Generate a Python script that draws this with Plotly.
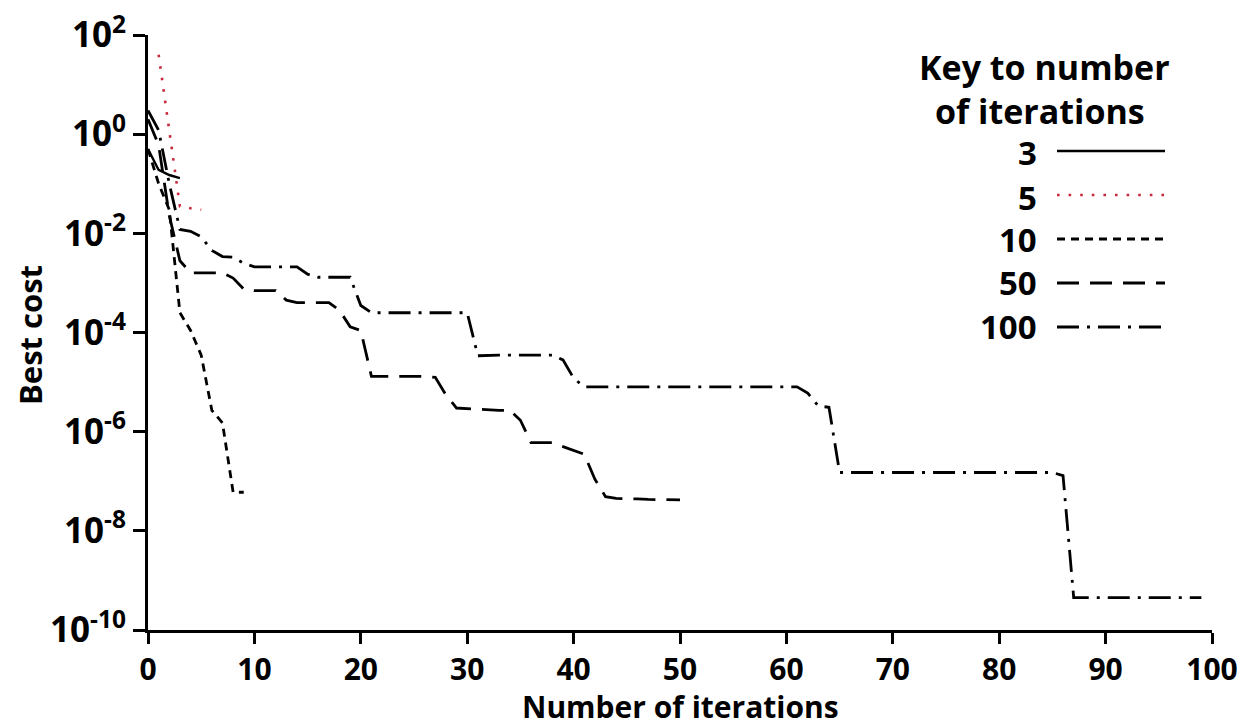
import plotly.graph_objects as go

# ---------------- data ----------------
iters_3 = [0, 1, 2, 3]
cost_3 = [0.5, 0.19, 0.15, 0.13]

iters_5 = [1, 2, 3, 4, 5]
cost_5 = [40, 1.1, 0.035, 0.032, 0.03]

iters_10 = [0, 1, 2, 3, 4, 5, 6, 7, 8, 9]
cost_10 = [0.5, 0.1, 0.03, 2.5e-4, 1.1e-4, 3.5e-5, 2.7e-6, 1.5e-6, 6e-8, 6e-8]

iters_50 = list(range(0, 51))
cost_50 = [2.0, 0.6, 0.023, 0.0028, 0.0016, 0.0016, 0.0016, 0.0016, 0.00125, 0.00075,
           0.0007, 0.0007, 0.0007, 0.00045, 0.0004, 0.0004, 0.0004, 0.0004, 0.00028, 0.00013,
           0.00011, 1.3e-5, 1.3e-5, 1.3e-5, 1.3e-5, 1.3e-5, 1.3e-5, 1.25e-5, 5.5e-6, 3.0e-6,
           2.9e-6, 2.9e-6, 2.8e-6, 2.7e-6, 2.7e-6, 1.7e-6, 6.0e-7, 6.0e-7, 6.0e-7, 5.0e-7,
           4.2e-7, 3.5e-7, 1.1e-7, 4.9e-8, 4.5e-8, 4.5e-8, 4.4e-8, 4.3e-8, 4.3e-8, 4.2e-8,
           4.2e-8]

iters_100 = list(range(0, 100))
cost_100 = [3.0, 1.2, 0.1, 0.012, 0.011, 0.0085, 0.0045, 0.0034, 0.0033, 0.0025,
            0.0021, 0.0021, 0.0021, 0.0021, 0.0021, 0.0015, 0.0013, 0.0013, 0.0013, 0.0013,
            3.5e-4, 2.5e-4, 2.5e-4, 2.5e-4, 2.5e-4, 2.5e-4, 2.5e-4, 2.5e-4, 2.5e-4, 2.5e-4,
            2.5e-4, 3.4e-5, 3.5e-5, 3.5e-5, 3.5e-5, 3.5e-5, 3.5e-5, 3.5e-5, 3.5e-5, 2.8e-5,
            1.2e-5, 8e-6, 8e-6, 8e-6, 8e-6, 8e-6, 8e-6, 8e-6, 8e-6, 8e-6,
            8e-6, 8e-6, 8e-6, 8e-6, 8e-6, 8e-6, 8e-6, 8e-6, 8e-6, 8e-6,
            8e-6, 8e-6, 6e-6, 3.3e-6, 3.1e-6, 1.5e-7, 1.5e-7, 1.5e-7, 1.5e-7, 1.5e-7,
            1.5e-7, 1.5e-7, 1.5e-7, 1.5e-7, 1.5e-7, 1.5e-7, 1.5e-7, 1.5e-7, 1.5e-7, 1.5e-7,
            1.5e-7, 1.5e-7, 1.5e-7, 1.5e-7, 1.5e-7, 1.5e-7, 1.3e-7, 4.5e-10, 4.5e-10, 4.5e-10,
            4.5e-10, 4.5e-10, 4.5e-10, 4.5e-10, 4.5e-10, 4.5e-10, 4.5e-10, 4.5e-10, 4.5e-10, 4.5e-10]

legend_labels = ["3", "5", "10", "50", "100"]
y_tick_exps = [2, 0, -2, -4, -6, -8, -10]
x_ticks = [0, 10, 20, 30, 40, 50, 60, 70, 80, 90, 100]

# ---------------- styles ----------------
FONT = "Open Sans, Lato, DejaVu Sans, sans-serif"
RED = "#c8283c"
styles = [
    dict(color="black", width=2.4, dash="solid"),
    dict(color=RED, width=2.6, dash="2.6px,9px"),
    dict(color="black", width=2.8, dash="8px,6px"),
    dict(color="black", width=2.8, dash="22px,11px"),
    dict(color="black", width=2.8, dash="22px,8px,3px,8px"),
]
series = [(iters_3, cost_3), (iters_5, cost_5), (iters_10, cost_10),
          (iters_50, cost_50), (iters_100, cost_100)]

fig = go.Figure()
for (xs, ys), st, name in zip(series, styles, legend_labels):
    fig.add_trace(go.Scatter(x=xs, y=ys, mode="lines", name=name,
                             line=st, showlegend=False, hoverinfo="x+y+name"))

# ---------------- layout geometry ----------------
OFF = 8  # default page body margin
W, H = 1247, 718
L, R, T, B = 140, 43, 27, 96
pw, ph = W - L - R, H - T - B


def px(x):
    return (x - OFF - L) / pw


def py(y):
    return (H - B - (y - OFF)) / ph


annotations = []
shapes = []

# custom key
annotations.append(dict(text="Key to number", x=px(1044), y=py(67), xref="paper", yref="paper",
                        showarrow=False, xanchor="center", yanchor="middle",
                        font=dict(family=FONT, size=34, color="black", weight="bold")))
annotations.append(dict(text="of iterations", x=px(1040), y=py(111), xref="paper", yref="paper",
                        showarrow=False, xanchor="center", yanchor="middle",
                        font=dict(family=FONT, size=34, color="black", weight="bold")))
label_y = [152, 197, 239, 282, 326]
line_y = [151, 195, 239, 283, 327]
for lab, ly, lny, st in zip(legend_labels, label_y, line_y, styles):
    annotations.append(dict(text=lab, x=px(1039), y=py(ly), xref="paper", yref="paper",
                            showarrow=False, xanchor="right", yanchor="middle",
                            font=dict(family=FONT, size=33, color="black", weight="bold")))
    shapes.append(dict(type="line", xref="paper", yref="paper",
                       x0=px(1057), x1=px(1165), y0=py(lny), y1=py(lny),
                       line=dict(color=st["color"], width=st["width"], dash=st["dash"])))

# axis titles
annotations.append(dict(text="Number of iterations", x=px(680), y=py(706), xref="paper", yref="paper",
                        showarrow=False, xanchor="center", yanchor="middle",
                        font=dict(family=FONT, size=30, color="black", weight="bold")))
annotations.append(dict(text="Best cost", x=px(30), y=py(335), xref="paper", yref="paper",
                        showarrow=False, xanchor="center", yanchor="middle", textangle=-90,
                        font=dict(family=FONT, size=31, color="black", weight="bold")))

fig.update_layout(
    width=W, height=H,
    margin=dict(l=L, r=R, t=T, b=B, pad=0, autoexpand=False),
    paper_bgcolor="white", plot_bgcolor="white",
    showlegend=False,
    annotations=annotations, shapes=shapes,
    xaxis=dict(range=[0, 100], tickvals=x_ticks, ticktext=[str(v) for v in x_ticks],
               automargin=False,
               showgrid=False, zeroline=False, showline=True, linecolor="black", linewidth=3,
               ticks="outside", ticklen=11, tickwidth=2.5, tickcolor="black",
               ticklabeloverflow="allow",
               tickfont=dict(family=FONT, size=30, color="black", weight="bold")),
    yaxis=dict(type="log", range=[-10, 2],
               tickvals=[10.0 ** e for e in y_tick_exps],
               ticktext=["10<sup>%d</sup>" % e for e in y_tick_exps],
               automargin=False,
               showgrid=False, zeroline=False, showline=True, linecolor="black", linewidth=3,
               ticks="outside", ticklen=12, tickwidth=2.5, tickcolor="black",
               ticklabeloverflow="allow",
               tickfont=dict(family=FONT, size=35, color="black", weight="bold")),
)

fig.write_html("out.html")
